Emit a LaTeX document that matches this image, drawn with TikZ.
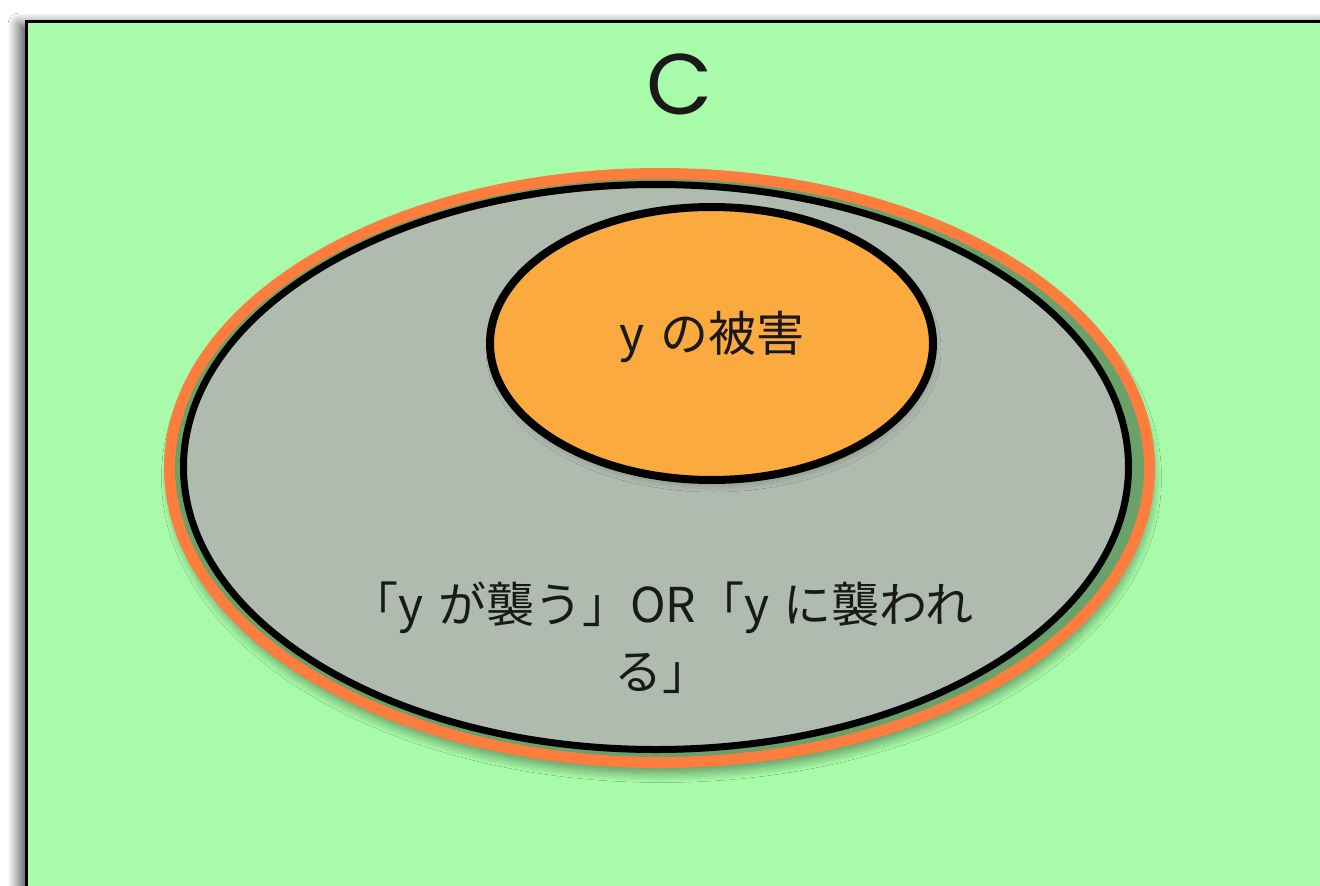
\documentclass[tikz,border=0pt]{standalone}
\usepackage{fontspec}
\setmainfont{Noto Sans CJK JP}
\newfontfamily\cfont{Poppins}
\usetikzlibrary{shadows.blur}
\definecolor{bggreen}{RGB}{168,251,168}
\definecolor{ringorange}{RGB}{252,125,62}
\definecolor{gapgreen}{RGB}{106,160,106}
\definecolor{ellgray}{RGB}{176,187,175}
\definecolor{innerorange}{RGB}{251,170,64}
\definecolor{txt}{RGB}{25,25,25}
\tikzset{
  lbl/.style={text=txt, inner sep=0pt, font=\fontsize{48}{67}\selectfont},
}
\begin{document}
\begin{tikzpicture}[x=1pt,y=-1pt]
\useasboundingbox (0,0) rectangle (1320,886);
\fill[white] (0,0) rectangle (1320,886);
\begin{scope}
\clip (0,0) rectangle (1320,886);
% main frame
\draw[line width=3pt, fill=bggreen,
  blur shadow={shadow xshift=-7pt, shadow yshift=-3pt, shadow blur radius=11pt, shadow blur steps=16, shadow opacity=70}]
  (26,21) rectangle (1345,920);
% outer ring
\draw[line width=11pt, draw=ringorange, fill=gapgreen,
  blur shadow={shadow xshift=2pt, shadow yshift=-10pt, shadow blur radius=10pt, shadow blur steps=12, shadow opacity=45}]
  (659.5,468) ellipse [x radius=490pt, y radius=294.5pt];
% gray ellipse
\draw[line width=7pt, fill=ellgray]
  (656,467) ellipse [x radius=472.5pt, y radius=282.5pt];
% inner orange ellipse
\draw[line width=8pt, fill=innerorange,
  blur shadow={shadow xshift=2pt, shadow yshift=-6pt, shadow blur radius=6pt, shadow blur steps=10, shadow opacity=20}]
  (711.5,343.5) ellipse [x radius=221.5pt, y radius=136.5pt];
\end{scope}
\node[lbl, font=\cfont\fontsize{86}{90}\selectfont] (c) at (680,84) {C};
\node[lbl] (harm) at (712,337) {y\hspace{0.33em}の被害};
\node[lbl, align=center] (attack) at (662,638) {「y\hspace{0.3em}が襲う」OR「y\hspace{0.3em}に襲われ\\る」};
\end{tikzpicture}
\end{document}
